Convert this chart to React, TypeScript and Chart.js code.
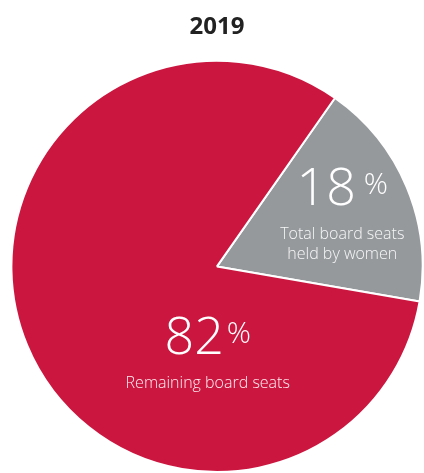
import React, { useEffect, useRef } from "react";
import { Chart, registerables } from "chart.js";

Chart.register(...registerables);

const TITLE = "2019";
const categories = ["Total board seats held by women", "Remaining board seats"];
const values = [18, 82];
const sublabels = [["Total board seats", "held by women"], ["Remaining board seats"]];
const colors = ["#95999C", "#CB1740"];

const labelPlugin = {
  id: "sliceLabels",
  afterDatasetsDraw(chart: any) {
    const ctx = chart.ctx;
    const meta = chart.getDatasetMeta(0);
    meta.data.forEach((arc: any, i: number) => {
      const R = arc.outerRadius;
      let ax: number, ay: number, gap: number;
      if (i === 0) {
        const mid = (arc.startAngle + arc.endAngle) / 2;
        ax = arc.x + Math.cos(mid) * R * 0.66;
        ay = arc.y + Math.sin(mid) * R * 0.66;
        gap = 8;
      } else {
        ax = arc.x - 0.045 * R;
        ay = arc.y + 0.47 * R;
        gap = 3;
      }
      const num = String(values[i]);
      ctx.save();
      ctx.fillStyle = "#ffffff";
      ctx.textBaseline = "alphabetic";
      ctx.textAlign = "left";
      const bigFont = "300 52px 'Open Sans', sans-serif";
      const smallFont = "300 30px 'Open Sans', sans-serif";
      ctx.font = bigFont;
      const w1 = ctx.measureText(num).width;
      ctx.font = smallFont;
      const w2 = ctx.measureText("%").width;
      const total = w1 + gap + w2;
      const x0 = ax - total / 2;
      const base = ay - 9;
      ctx.font = bigFont;
      ctx.fillText(num, x0, base);
      ctx.font = smallFont;
      ctx.fillText("%", x0 + w1 + gap, base - 11);
      ctx.font = "300 16px 'Open Sans', sans-serif";
      ctx.textAlign = "center";
      ctx.fillStyle = "rgba(255,255,255,0.92)";
      sublabels[i].forEach((t, k) => {
        ctx.fillText(t, ax, base + 34 + k * 20);
      });
      ctx.restore();
    });
  },
};

export default function App() {
  const ref = useRef<HTMLCanvasElement | null>(null);
  useEffect(() => {
    if (!ref.current) return;
    const chart = new Chart(ref.current, {
      type: "pie",
      data: {
        labels: categories,
        datasets: [
          {
            data: values,
            backgroundColor: colors,
            borderColor: "#ffffff",
            borderWidth: 2,
            hoverBorderWidth: 2,
          },
        ],
      },
      options: {
        responsive: false,
        animation: false,
        devicePixelRatio: 1,
        rotation: 35,
        layout: { padding: { left: 10, right: 0, top: 0, bottom: -2 } },
        plugins: {
          legend: { display: false },
          tooltip: { enabled: false },
          title: {
            display: true,
            text: TITLE,
            color: "#222222",
            font: { family: "'Open Sans', sans-serif", size: 24, weight: "bold" },
            padding: { top: 13, bottom: 18 },
          },
        },
      },
      plugins: [labelPlugin],
    } as any);
    return () => chart.destroy();
  }, []);
  return (
    <div style={{ position: "absolute", left: 0, top: 0, width: 424, height: 473 }}>
      <canvas ref={ref} width={424} height={473} />
    </div>
  );
}
